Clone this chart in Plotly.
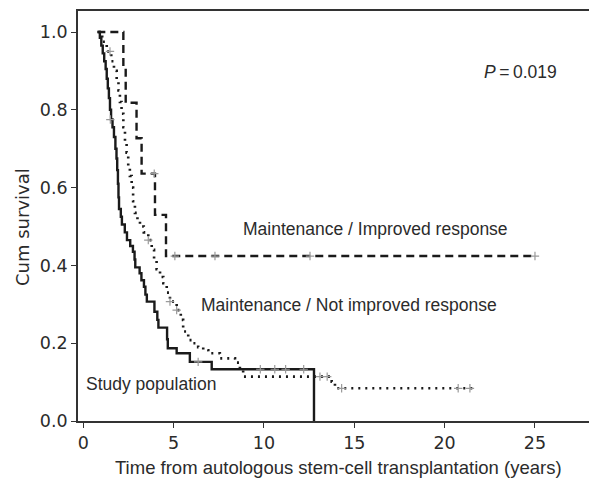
import plotly.graph_objects as go

# ---- data ----
study_t = [0.80, 0.92, 1.00, 1.08, 1.16, 1.24, 1.30, 1.36, 1.42, 1.48, 1.54, 1.62, 1.70, 1.78,
           1.84, 1.88, 1.92, 1.95, 1.98, 2.08, 2.14, 2.30, 2.42, 2.60, 2.75, 2.84, 2.88, 3.12,
           3.22, 3.36, 3.44, 3.52, 3.94, 4.10, 4.16, 4.64, 4.68, 5.17, 5.90, 7.11, 12.77]
study_s = [1.000, 0.985, 0.965, 0.945, 0.925, 0.905, 0.880, 0.855, 0.830, 0.800, 0.775, 0.755,
           0.730, 0.700, 0.675, 0.645, 0.610, 0.575, 0.545, 0.525, 0.505, 0.485, 0.465, 0.450,
           0.435, 0.415, 0.395, 0.380, 0.362, 0.345, 0.325, 0.307, 0.281, 0.260, 0.240, 0.210,
           0.187, 0.174, 0.152, 0.133, 0.000]
study_cens_t = [1.50, 6.36, 9.80, 10.60, 11.20, 12.20]
study_cens_s = [0.775, 0.152, 0.133, 0.133, 0.133, 0.133]

notimp_t = [0.85, 1.05, 1.30, 1.55, 1.70, 1.85, 1.95, 2.03, 2.12, 2.22, 2.31, 2.40, 2.49, 2.58,
            2.68, 2.76, 2.86, 3.00, 3.14, 3.35, 3.60, 3.79, 3.92, 4.06, 4.25, 4.43, 4.62, 4.80,
            5.17, 5.40, 5.53, 5.81, 6.09, 6.36, 6.64, 6.92, 7.56, 8.40, 8.67, 8.85, 13.75, 13.93,
            21.57]
notimp_s = [1.000, 0.975, 0.950, 0.925, 0.900, 0.875, 0.850, 0.820, 0.790, 0.755, 0.720, 0.690,
            0.655, 0.630, 0.600, 0.565, 0.535, 0.515, 0.500, 0.485, 0.465, 0.440, 0.415, 0.390,
            0.370, 0.354, 0.330, 0.307, 0.285, 0.260, 0.230, 0.208, 0.200, 0.190, 0.182, 0.174,
            0.161, 0.150, 0.131, 0.114, 0.101, 0.084, 0.084]
notimp_cens_t = [1.48, 3.60, 4.80, 5.17, 13.10, 13.50, 14.30, 20.75, 21.40]
notimp_cens_s = [0.950, 0.465, 0.307, 0.285, 0.114, 0.114, 0.084, 0.084, 0.084]

imp_t = [0.78, 2.22, 2.35, 2.95, 3.23, 3.97, 4.58, 25.0]
imp_s = [1.000, 0.909, 0.818, 0.727, 0.636, 0.530, 0.424, 0.424]
imp_cens_t = [3.93, 5.07, 7.29, 12.55, 25.0]
imp_cens_s = [0.636, 0.424, 0.424, 0.424, 0.424]

x_ticks = [0, 5, 10, 15, 20, 25]
y_ticks = [0.0, 0.2, 0.4, 0.6, 0.8, 1.0]

FONT_A = "Liberation Sans"
FONT_D = "DejaVu Sans"
TXT = "#2b2b2b"
LINE = "#1a1a1a"
CENS = "#9a9a9a"

fig = go.Figure()
fig.add_trace(go.Scatter(x=imp_t, y=imp_s, mode="lines", line_shape="hv",
                         line=dict(color=LINE, width=2.4, dash="8px,5px"), hoverinfo="skip"))
fig.add_trace(go.Scatter(x=notimp_t, y=notimp_s, mode="lines", line_shape="hv",
                         line=dict(color=LINE, width=2.6, dash="2px,5px"), hoverinfo="skip"))
fig.add_trace(go.Scatter(x=study_t, y=study_s, mode="lines", line_shape="hv",
                         line=dict(color=LINE, width=2.4), hoverinfo="skip"))
for ct, cs in [(imp_cens_t, imp_cens_s), (notimp_cens_t, notimp_cens_s), (study_cens_t, study_cens_s)]:
    fig.add_trace(go.Scatter(x=ct, y=cs, mode="markers",
                             marker=dict(symbol="cross-thin", size=6,
                                         line=dict(color=CENS, width=1.2)),
                             hoverinfo="skip"))

L, T, B = 78, 11, 58
W, H = 589, 479
pw = W - L
ph = H - T - B

def px(x):
    return (x - L) / pw

def py(y):
    return (H - B - y) / ph

annots = [
    dict(text="<i>P</i>\u2009=\u20090.019", x=px(520), y=py(72), font=dict(family=FONT_A, size=17.5)),
    dict(text="Maintenance / Improved response", x=px(375), y=py(229), font=dict(family=FONT_A, size=17.5)),
    dict(text="Maintenance / Not improved response", x=px(349), y=py(305), font=dict(family=FONT_A, size=17.5)),
    dict(text="Study population", x=px(151), y=py(384), font=dict(family=FONT_A, size=17.5)),
    dict(text="Time from autologous stem-cell transplantation (years)", x=px(338), y=py(467),
         font=dict(family=FONT_A, size=18.5)),
    dict(text="Cum survival", x=px(22), y=py(227), textangle=-90, font=dict(family=FONT_D, size=18)),
]
for a in annots:
    a["font"]["color"] = TXT
fig.update_layout(
    annotations=[dict(a, xref="paper", yref="paper", showarrow=False,
                      xanchor="center", yanchor="middle") for a in annots],
    width=W, height=H,
    margin=dict(l=L, r=0, t=T, b=B),
    plot_bgcolor="white", paper_bgcolor="white",
    showlegend=False,
    font=dict(family=FONT_D, size=17, color=TXT),
    xaxis=dict(range=[-0.29, 27.99], tickvals=x_ticks, ticks="outside", ticklen=5,
               tickwidth=1.3, tickcolor="#333", showline=True, linecolor="#333", linewidth=1.6,
               mirror=True, showgrid=False, zeroline=False,
               tickfont=dict(family=FONT_D, size=17.5, color=TXT)),
    yaxis=dict(range=[0, 1.054], tickvals=y_ticks, tickformat=".1f", ticks="outside",
               ticklen=5, tickwidth=1.3, tickcolor="#333", showline=True, linecolor="#333",
               linewidth=1.6, showgrid=False, zeroline=False,
               tickfont=dict(family=FONT_D, size=17.5, color=TXT)),
)
fig.write_html("out.html")
